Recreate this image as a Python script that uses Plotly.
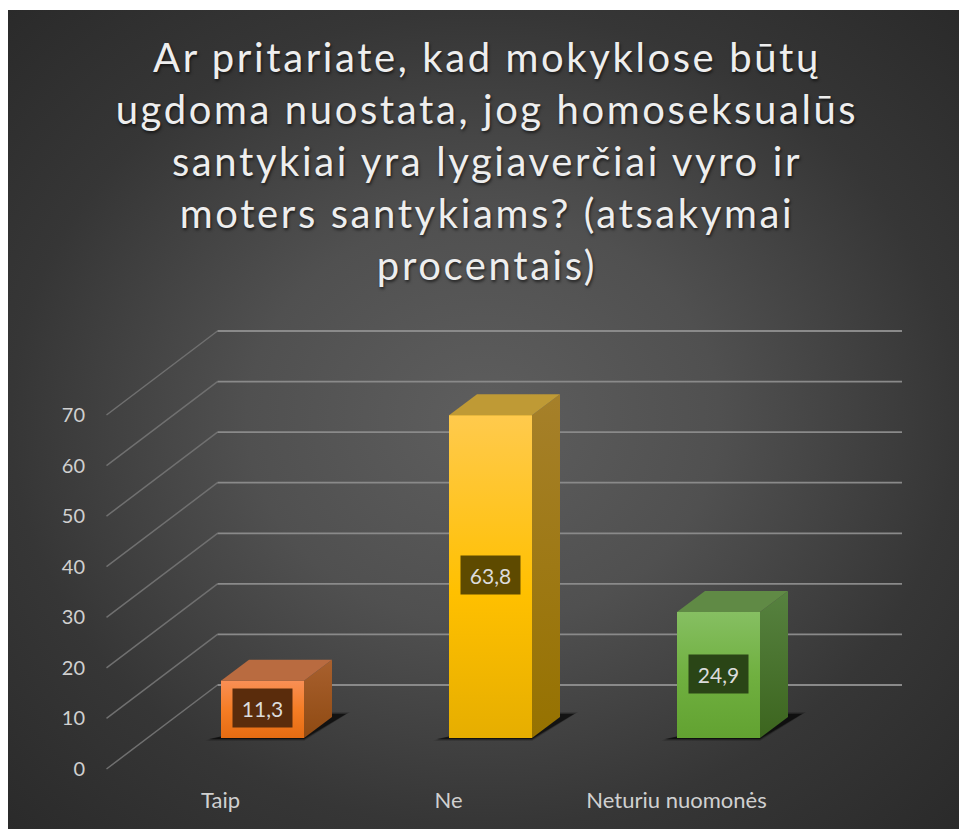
import plotly.graph_objects as go

TITLE = ("Ar pritariate, kad mokyklose būtų<br>ugdoma nuostata, jog homoseksualūs<br>"
         "santykiai yra lygiaverčiai vyro ir<br>moters santykiams? (atsakymai<br>procentais)")
categories = ["Taip", "Ne", "Neturiu nuomonės"]
values = [11.3, 63.8, 24.9]
tick_values = [0, 10, 20, 30, 40, 50, 60, 70]

front_scales = [
    [[0, "#f98f55"], [0.5, "#f57d25"], [1, "#e56c12"]],
    [[0, "#ffca4d"], [0.55, "#ffc000"], [1, "#e6ae00"]],
    [[0, "#86bf62"], [0.5, "#70b040"], [1, "#62a231"]],
]
mid_colors = ["#f57d25", "#ffc000", "#70b040"]
top_colors = ["#b96b40", "#bf9a35", "#608a45"]
side_scales = [
    [[0, "#a8602e"], [1, "#8f4a12"]],
    [[0, "#a6802a"], [1, "#967200"]],
    [[0, "#578240"], [1, "#3c651e"]],
]
label_bg = ["#5a2c0c", "#5e4a00", "#2a4516"]

W, H = 959, 829
PX_V = 354 / 70          # pixels per value unit
PX_X = 228.0             # pixels per category step
ZERO_PX_Y = 769
CAT0_PX_X = 262.5
PLOT_L, PLOT_T = 8, 10

xr = [(PLOT_L - CAT0_PX_X) / PX_X, (W - CAT0_PX_X) / PX_X]
yr = [-(H - ZERO_PX_Y) / PX_V, (ZERO_PX_Y - PLOT_T) / PX_V]

BAR_W = 83 / PX_X
DX, DY = 28 / PX_X, 21 / PX_V
BASE = 31 / PX_V
WALL_DX, WALL_DY = 111 / PX_X, 84 / PX_V
WALL_L = (106.5 - CAT0_PX_X) / PX_X
WALL_R = (902 - CAT0_PX_X) / PX_X
LABEL_SHIFT = 42 / PX_X


def flip(scale):
    return [[1 - s, c] for s, c in scale][::-1]


fig = go.Figure()

# chart-area background with a radial gradient (clipped by the plot area)
cx, cy = (xr[0] + xr[1]) / 2, (yr[0] + yr[1]) / 2
hw, hh = (xr[1] - xr[0]) / 2 * 1.42, (yr[1] - yr[0]) / 2 * 1.42
fig.add_trace(go.Scatter(
    x=[cx - hw, cx + hw, cx + hw, cx - hw, cx - hw],
    y=[cy - hh, cy - hh, cy + hh, cy + hh, cy - hh],
    mode="none", fill="toself", hoverinfo="skip", showlegend=False,
    fillgradient=dict(type="radial", colorscale=[[0, "#5e5e5e"], [0.35, "#505050"], [0.7, "#363636"], [1, "#2a2a2a"]]),
))

# walls: diagonals and back-wall gridlines, built from the tick values
dx_, dy_ = [], []
bx_, by_ = [], []
for v in tick_values:
    dx_ += [WALL_L, WALL_L + WALL_DX, None]
    dy_ += [v, v + WALL_DY, None]
    bx_ += [WALL_L + WALL_DX, WALL_R, None]
    by_ += [v + WALL_DY, v + WALL_DY, None]
fig.add_trace(go.Scatter(x=dx_, y=dy_, mode="lines", line=dict(color="#707070", width=1.5),
                         hoverinfo="skip", showlegend=False))
fig.add_trace(go.Scatter(x=bx_, y=by_, mode="lines", line=dict(color="#8a8a8a", width=1.8),
                         hoverinfo="skip", showlegend=False))

# floor shadows
for i in range(len(values)):
    x0, x1 = i - BAR_W / 2, i + BAR_W / 2
    for grow, op in [(4, 0.15), (2, 0.25), (0, 0.55)]:
        gx, gy = grow / PX_X, grow / PX_V * 0.5
        fig.add_trace(go.Scatter(
            x=[x0 - 12 / PX_X - gx, x1, x1 + 42 / PX_X + gx, x1 + 20 / PX_X],
            y=[BASE - 1 / PX_V - gy, BASE - 1 / PX_V - gy, BASE + 24 / PX_V + gy, BASE + 24 / PX_V + gy],
            mode="none", fill="toself", fillcolor=f"rgba(0,0,0,{op})",
            hoverinfo="skip", showlegend=False))

# bars (overlay subplot, so they sit above the walls)
fig.add_trace(go.Bar(x=list(range(len(values))), y=values, base=BASE, width=BAR_W,
                     marker=dict(color=mid_colors, line=dict(width=0)),
                     xaxis="x2", yaxis="y2", hoverinfo="skip", showlegend=False))

for i, v in enumerate(values):
    x0, x1 = i - BAR_W / 2, i + BAR_W / 2
    y0, y1 = BASE, BASE + v
    # gradient front face
    fig.add_trace(go.Scatter(x=[x0, x1, x1, x0, x0], y=[y0, y0, y1, y1, y0], mode="none", fill="toself",
                             fillgradient=dict(type="vertical", colorscale=flip(front_scales[i])),
                             xaxis="x2", yaxis="y2", hoverinfo="skip", showlegend=False))
    # side face
    fig.add_trace(go.Scatter(x=[x1, x1 + DX, x1 + DX, x1, x1], y=[y0, y0 + DY, y1 + DY, y1, y0],
                             mode="none", fill="toself",
                             fillgradient=dict(type="vertical", colorscale=flip(side_scales[i])),
                             xaxis="x2", yaxis="y2", hoverinfo="skip", showlegend=False))
    # top face
    fig.add_trace(go.Scatter(x=[x0, x1, x1 + DX, x0 + DX, x0], y=[y1, y1, y1 + DY, y1 + DY, y1],
                             mode="none", fill="toself", fillcolor=top_colors[i],
                             xaxis="x2", yaxis="y2", hoverinfo="skip", showlegend=False))
    fig.add_annotation(x=i, y=BASE + v / 2 + 0.3, xref="x2", yref="y2", showarrow=False,
                       text=f"{v:.1f}".replace(".", ","), width=59, height=38, borderpad=0,
                       bgcolor=label_bg[i], font=dict(family="Lato", size=21, color="#dcdcdc"))

fig.update_layout(
    width=W, height=H, autosize=False,
    margin=dict(l=0, r=0, t=0, b=0),
    paper_bgcolor="white", plot_bgcolor="rgba(0,0,0,0)",
    showlegend=False, barmode="overlay",
    font=dict(family="Lato", color="#d9d9d9"),
    title=dict(text=TITLE, x=487 / W, xanchor="center", y=1 - 72 / H, yanchor="top",
               font=dict(family="Lato", size=40, weight=400, color="#eeeeee",
                         shadow="1px 2px 3px rgba(0,0,0,0.6)")),
    xaxis=dict(domain=[PLOT_L / W, 1], range=xr, showgrid=False, zeroline=False, showline=False,
               tickmode="array", tickvals=[i - LABEL_SHIFT for i in range(len(categories))],
               ticktext=categories, ticks="", tickfont=dict(size=22, color="#d0d0d0"),
               anchor="free", position=(H - 785) / H),
    yaxis=dict(domain=[0, 1 - PLOT_T / H], range=yr, showgrid=False, zeroline=False, showline=False,
               tickmode="array", tickvals=tick_values, ticktext=[str(t) for t in tick_values],
               ticks="", tickfont=dict(size=20, color="#d0d0d0"),
               anchor="free", position=85 / W),
    xaxis2=dict(domain=[PLOT_L / W, 1], range=xr, overlaying="x", visible=False),
    yaxis2=dict(domain=[0, 1 - PLOT_T / H], range=yr, overlaying="y", visible=False),
)

POST = """
document.body.style.margin = '0';
document.querySelectorAll('.gtitle').forEach(function (t) { t.style.letterSpacing = '2.6px'; });
"""
fig.write_html("out.html", post_script=POST, config=dict(displayModeBar=False))
